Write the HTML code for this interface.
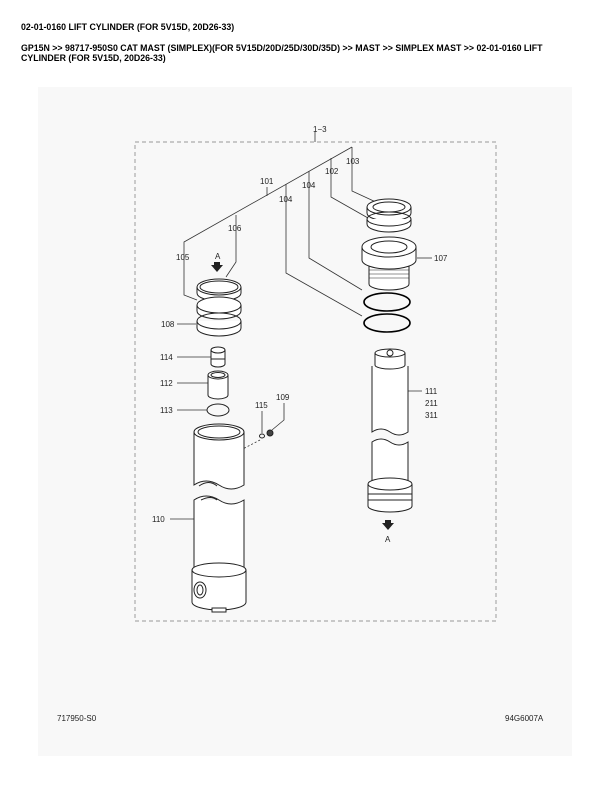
<!DOCTYPE html>
<html><head><meta charset="utf-8"><style>
html,body{margin:0;padding:0;background:#fff;width:612px;height:792px;overflow:hidden}
.h{position:absolute;left:21px;font-family:"Liberation Sans",Arial,sans-serif;font-weight:bold;font-size:8.8px;color:#000;line-height:10px}
</style></head><body>
<div class="h" style="top:22px">02-01-0160 LIFT CYLINDER (FOR 5V15D, 20D26-33)</div>
<div class="h" style="top:43px">GP15N &gt;&gt; 98717-950S0 CAT MAST (SIMPLEX)(FOR 5V15D/20D/25D/30D/35D) &gt;&gt; MAST &gt;&gt; SIMPLEX MAST &gt;&gt; 02-01-0160 LIFT<br>CYLINDER (FOR 5V15D, 20D26-33)</div>
<svg width="612" height="792" style="position:absolute;left:0;top:0" xmlns="http://www.w3.org/2000/svg">
<rect x="38" y="87" width="534" height="669" fill="#f8f8f8"/>
<g font-family="Liberation Sans, Arial, sans-serif" font-size="8" fill="#222">
<text x="313" y="132">1−3</text>
<text x="260" y="184">101</text>
<text x="325" y="174">102</text>
<text x="346" y="164">103</text>
<text x="302" y="188">104</text>
<text x="279" y="202">104</text>
<text x="228" y="231">106</text>
<text x="176" y="260">105</text>
<text x="215" y="259">A</text>
<text x="161" y="327">108</text>
<text x="434" y="261">107</text>
<text x="160" y="360">114</text>
<text x="160" y="386">112</text>
<text x="160" y="413">113</text>
<text x="255" y="408">115</text>
<text x="276" y="400">109</text>
<text x="152" y="522">110</text>
<text x="425" y="394">111</text>
<text x="425" y="406">211</text>
<text x="425" y="418">311</text>
<text x="385" y="542">A</text>
<text x="57" y="721">717950-S0</text>
<text x="505" y="721">94G6007A</text>
</g>
<g fill="none" stroke="#333" stroke-width="0.8">
<rect x="135" y="142" width="361" height="479" stroke-dasharray="4,3" stroke="#777" stroke-width="0.7"/>
<line x1="315" y1="131" x2="315" y2="142"/>
<polyline points="352,147 184,242 184,295 197,300"/>
<line x1="267" y1="187" x2="267" y2="196"/>
<polyline points="236,215 236,262 226,277"/>
<polyline points="352,147 352,191 378,203"/>
<polyline points="331,158 331,197 368,218"/>
<polyline points="309,171 309,258 362,290"/>
<polyline points="286,184 286,273 362,316"/>
<line x1="177" y1="324" x2="196" y2="324"/>
<line x1="417" y1="258" x2="432" y2="258"/>
<line x1="177" y1="357" x2="211" y2="357"/>
<line x1="177" y1="383" x2="208" y2="383"/>
<line x1="177" y1="410" x2="207" y2="410"/>
<line x1="262" y1="411" x2="262" y2="433"/>
<polyline points="284,403 284,420 272,430"/>
<line x1="170" y1="519" x2="194" y2="519"/>
<line x1="405" y1="391" x2="422" y2="391"/>
<line x1="237" y1="452" x2="260" y2="440" stroke-dasharray="2,2"/>
</g>
<g fill="#fff" stroke="#222" stroke-width="1">
<path d="M367,207 v6 a22,8 0 0 0 44,0 v-6"/><ellipse cx="389" cy="207" rx="22" ry="8"/><ellipse cx="389" cy="207" rx="16" ry="5"/>
<path d="M367,219 v5 a22,8 0 0 0 44,0 v-5"/><ellipse cx="389" cy="219" rx="22" ry="7" fill="none"/>
<path d="M369,262 v22 a20,6 0 0 0 40,0 v-22"/>
<g stroke-width="0.5"><line x1="369" y1="266" x2="409" y2="266"/><line x1="369" y1="270" x2="409" y2="270"/><line x1="369" y1="274" x2="409" y2="274"/><line x1="369" y1="278" x2="409" y2="278"/></g>
<path d="M362,247 v13 a27,9 0 0 0 54,0 v-13"/><ellipse cx="389" cy="247" rx="27" ry="10"/><ellipse cx="389" cy="247" rx="18" ry="6"/>
<ellipse cx="387" cy="302" rx="23" ry="9" fill="none" stroke="#000" stroke-width="1.6"/>
<ellipse cx="387" cy="323" rx="23" ry="9" fill="none" stroke="#000" stroke-width="1.6"/>
<path d="M197,287 v6 a22,8 0 0 0 44,0 v-6"/><ellipse cx="219" cy="287" rx="22" ry="8"/><ellipse cx="219" cy="287" rx="19" ry="6"/>
<path d="M197,305 v6 a22,8 0 0 0 44,0 v-6"/><ellipse cx="219" cy="305" rx="22" ry="8"/>
<path d="M197,321 v7 a22,8 0 0 0 44,0 v-7"/><ellipse cx="219" cy="321" rx="22" ry="8" fill="none"/>
<path d="M211,350 v14 a7,3 0 0 0 14,0 v-14"/><ellipse cx="218" cy="350" rx="7" ry="3"/><line x1="211" y1="359" x2="225" y2="359"/>
<path d="M208,375 v20 a10,4 0 0 0 20,0 v-20"/><ellipse cx="218" cy="375" rx="10" ry="4"/><ellipse cx="218" cy="375" rx="7" ry="2.5"/>
<ellipse cx="218" cy="410" rx="11" ry="6" fill="none"/>
<ellipse cx="262" cy="436" rx="2.5" ry="2" fill="none"/>
<circle cx="270" cy="433" r="3" fill="#444"/>
<path d="M194,432 v53 q12,-8 25,0 q12,8 25,0 v-53"/><ellipse cx="219" cy="432" rx="25" ry="8"/><ellipse cx="219" cy="432" rx="21" ry="6"/>
<path d="M199,486 q10,-7 18,0" fill="none"/>
<path d="M194,500 q12,-8 25,0 q12,8 25,0 v70 h-50z"/>
<path d="M201,500 q10,-5 16,0" fill="#eee"/>
<path d="M192,570 v32 a27,8 0 0 0 54,0 v-32"/><ellipse cx="219" cy="570" rx="27" ry="7"/>
<ellipse cx="200" cy="590" rx="6" ry="8"/><ellipse cx="200" cy="590" rx="3" ry="5"/>
<rect x="212" y="608" width="14" height="4"/>
<path d="M372,366 v66 q9,-6 18,0 q9,6 18,0 v-66"/>
<path d="M375,353 v12 a15,4 0 0 0 30,0 v-12"/><ellipse cx="390" cy="353" rx="15" ry="4"/><circle cx="390" cy="353" r="3"/>
<path d="M372,442 q9,-6 18,0 q9,6 18,0 v45 h-36z"/>
<path d="M368,484 v22 a22,6 0 0 0 44,0 v-22"/><ellipse cx="390" cy="484" rx="22" ry="6"/>
<line x1="368" y1="494" x2="412" y2="494"/><line x1="368" y1="500" x2="412" y2="500"/>
</g>
<path d="M214,262 l6,0 l0,3 l3,0 l-6,7 l-6,-7 l3,0z" fill="#222"/>
<path d="M385,520 l6,0 l0,3 l3,0 l-6,7 l-6,-7 l3,0z" fill="#222"/>
</svg>
</body></html>
